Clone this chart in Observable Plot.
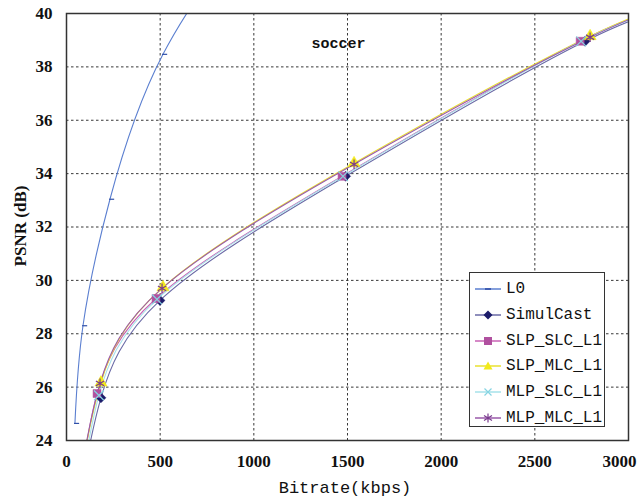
<!DOCTYPE html>
<html><head><meta charset="utf-8">
<script src="https://cdn.jsdelivr.net/npm/d3@7"></script>
<script src="https://cdn.jsdelivr.net/npm/@observablehq/plot@0.6"></script>
<style>
body{margin:0;background:#fff;}
#wrap{position:relative;width:638px;height:498px;}
#legend{position:absolute;left:469px;top:272px;width:136px;height:155px;border:1.5px solid #333;background:#fff;box-sizing:border-box;font-family:"Liberation Mono","DejaVu Sans Mono",monospace;font-size:16px;color:#111;}
.row{position:absolute;left:4px;height:20px;display:flex;align-items:center;}
.row svg{margin-right:4px;}
</style>
</head><body>
<div id="wrap"></div>
<script>
// ---- data ----
const seriesNames = ["L0","SimulCast","SLP_SLC_L1","SLP_MLC_L1","MLP_SLC_L1","MLP_MLC_L1"];
const lineColors  = ["#5b7fd0","#6a6aa6","#c862b4","#e8e030","#a6e2ea","#9a5aaa"];
const markColors  = ["#2f4fa8","#1c1c6a","#b0509f","#f2ea1a","#86d4e2","#7a3a8e"];
const markSymbols = ["dash","diamond2","square","triangle","times","asterisk"];

const rateL0   = [45, 88, 232, 515, 1000];
const psnrL0   = [24.64, 28.3, 33.04, 38.47, 43.5];
const rateSim  = [90, 184, 499, 1490, 2768, 3300];
const psnrSim  = [22.6, 25.6, 29.25, 33.9, 38.96, 40.2];
const rateSS   = [80, 163, 478, 1471, 2742, 3300];
const psnrSS   = [22.6, 25.76, 29.32, 33.9, 38.96, 40.25];
const rateSM   = [80, 184, 515, 1535, 2795, 3300];
const psnrSM   = [22.9, 26.17, 29.74, 34.39, 39.15, 40.4];
const rateMS   = [85, 173, 483, 1476, 2747, 3300];
const psnrMS   = [22.6, 25.69, 29.29, 33.9, 38.96, 40.22];
const rateMM   = [80, 179, 510, 1535, 2795, 3300];
const psnrMM   = [22.9, 26.14, 29.7, 34.35, 39.11, 40.4];

const xTicks = [0, 500, 1000, 1500, 2000, 2500, 3000];
const yTicks = [24, 26, 28, 30, 32, 34, 36, 38, 40];
const titleText = "soccer";
const xLabel = "Bitrate(kbps)";
const yLabel = "PSNR (dB)";

// ---- build table ----
const rates = [rateL0, rateSim, rateSS, rateSM, rateMS, rateMM];
const psnrs = [psnrL0, psnrSim, psnrSS, psnrSM, psnrMS, psnrMM];
const rows = [];
seriesNames.forEach((s, i) => rates[i].forEach((r, j) => rows.push({series: s, rate: r, psnr: psnrs[i][j]})));

const dashSymbol = {draw(ctx, size) { const r = Math.sqrt(size / Math.PI); ctx.moveTo(-0.3*r, 0); ctx.lineTo(1.4*r, 0); }};
const symbolOf = s => { const k = markSymbols[seriesNames.indexOf(s)]; return k === "dash" ? dashSymbol : k; };

const axisStyle = {tickSize: 0, fontSize: 17, fontWeight: "bold", fontFamily: "Liberation Serif, serif", fill: "#111", label: null, tickFormat: d => String(d)};
const marks = [
  Plot.gridX(xTicks.slice(1, -1), {stroke: "#222", strokeOpacity: 0.9, strokeDasharray: "2.5,2.5"}),
  Plot.gridY(yTicks.slice(1, -1), {stroke: "#222", strokeOpacity: 0.9, strokeDasharray: "2.5,2.5"}),
  Plot.axisX(xTicks.slice(0, -1), {...axisStyle, tickPadding: 14}),
  Plot.axisX(xTicks.slice(-1), {...axisStyle, tickPadding: 14, dx: -9}),
  Plot.axisY(yTicks, {...axisStyle, tickPadding: 14}),
];
seriesNames.forEach((s, i) => {
  const d = rows.filter(r => r.series === s);
  marks.push(Plot.line(d, {x: "rate", y: "psnr", curve: "natural", stroke: lineColors[i], strokeWidth: 1.1, clip: true}));
});
seriesNames.forEach((s, i) => {
  const d = rows.filter(r => r.series === s);
  const sym = symbolOf(s);
  const filled = ["diamond2","square","triangle"].includes(markSymbols[i]);
  marks.push(Plot.dot(d, {x: "rate", y: "psnr", symbol: () => sym, r: markSymbols[i] === "dash" ? 3 : 4.5,
    fill: filled ? markColors[i] : "none", stroke: markColors[i], strokeWidth: filled ? 0.5 : 1.2, clip: true}));
});
marks.push(Plot.frame({stroke: "#333", strokeWidth: 1.5}));
marks.push(Plot.text([titleText], {frameAnchor: "top", dy: 24, dx: -9, text: d => d, fontSize: 15, fontWeight: "bold", fontFamily: "Liberation Mono, monospace", fill: "#111"}));

const chart = Plot.plot({
  width: 638, height: 498,
  marginLeft: 66, marginRight: 10, marginTop: 13, marginBottom: 58,
  x: {domain: [0, 3000]},
  y: {domain: [24, 40]},
  symbol: {type: "identity"},
  style: {background: "#fff", overflow: "visible"},
  marks
});

// axis titles as text in the svg
const svg = d3.select(chart);
svg.append("text").attr("x", 345).attr("y", 493).attr("text-anchor", "middle")
  .attr("font-family", "Liberation Mono, monospace").attr("font-size", 17).attr("fill", "#111").text(xLabel);
svg.append("text").attr("transform", "translate(26,226) rotate(-90)").attr("text-anchor", "middle")
  .attr("font-family", "Liberation Serif, serif").attr("font-size", 17).attr("font-weight", "bold").attr("fill", "#111").text(yLabel);

const wrap = document.getElementById("wrap");
wrap.appendChild(chart);

// legend overlay
const legend = document.createElement("div");
legend.id = "legend";
const swatch = (i) => {
  const c = markColors[i], lc = lineColors[i], k = markSymbols[i];
  let m = "";
  if (k === "dash") m = `<line x1="11" x2="17" y1="7" y2="7" stroke="${c}" stroke-width="1.6"/>`;
  if (k === "diamond2") m = `<path d="M14,2.5L18.5,7L14,11.5L9.5,7Z" fill="${c}"/>`;
  if (k === "square") m = `<rect x="10" y="3" width="8" height="8" fill="${c}"/>`;
  if (k === "triangle") m = `<path d="M14,2.5L18.5,10.5L9.5,10.5Z" fill="${c}"/>`;
  if (k === "times") m = `<path d="M10.5,3.5L17.5,10.5M17.5,3.5L10.5,10.5" stroke="${c}" stroke-width="1.2"/>`;
  if (k === "asterisk") m = `<path d="M14,2.5V11.5M10,4.5L18,9.5M18,4.5L10,9.5" stroke="${c}" stroke-width="1.2"/>`;
  return `<svg width="28" height="14"><line x1="1" x2="27" y1="7" y2="7" stroke="${lc}" stroke-width="1.5"/>${m}</svg>`;
};
seriesNames.forEach((s, i) => {
  const row = document.createElement("div");
  row.className = "row";
  row.style.top = (6 + i * 25.8) + "px";
  row.innerHTML = swatch(i) + `<span>${s}</span>`;
  legend.appendChild(row);
});
wrap.appendChild(legend);
</script>
</body></html>
